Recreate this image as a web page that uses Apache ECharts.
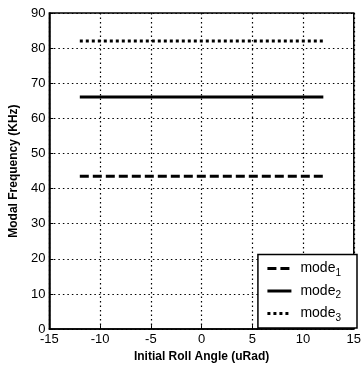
<!DOCTYPE html>
<html>
<head>
<meta charset="utf-8">
<script src="https://cdn.jsdelivr.net/npm/echarts@6/dist/echarts.min.js"></script>
<style>
  html, body { margin: 0; padding: 0; background: #fff; }
  #chart { width: 364px; height: 368px; }
</style>
</head>
<body>
<div id="chart"></div>
<script>
// roll angle samples (uRad)
const rollAngle = [-12, -9, -6, -3, 0, 3, 6, 9, 12];
// modal frequencies (KHz)
const mode1 = [43.5, 43.5, 43.5, 43.5, 43.5, 43.5, 43.5, 43.5, 43.5];
const mode2 = [66.1, 66.1, 66.1, 66.1, 66.1, 66.1, 66.1, 66.1, 66.1];
const mode3 = [82.0, 82.0, 82.0, 82.0, 82.0, 82.0, 82.0, 82.0, 82.0];
const seriesNames = ['mode1', 'mode2', 'mode3'];

const font = 'Liberation Sans, Arial, sans-serif';
const pairs = ys => rollAngle.map((x, i) => [x, ys[i]]);

const chart = echarts.init(document.getElementById('chart'), null, { renderer: 'canvas' });

const gridDotted = { show: true, lineStyle: { color: '#000', type: [1.5, 3], width: 1.2 } };

chart.setOption({
  animation: false,
  backgroundColor: '#fff',
  textStyle: { fontFamily: font, color: '#000' },
  grid: { left: 43, right: 8, top: 13, bottom: 38, show: true, borderColor: '#000', borderWidth: 1.5 },
  legend: {
    data: seriesNames,
    orient: 'vertical',
    right: 7,
    bottom: 40,
    backgroundColor: '#fff',
    borderColor: '#000',
    borderWidth: 1.5,
    borderRadius: 0,
    padding: [7, 16, 5, 8],
    itemGap: 6,
    itemWidth: 24,
    itemHeight: 10,
    itemStyle: { opacity: 0 },
    lineStyle: { width: 3 },
    formatter: n => 'mode{sub|' + n.slice(4) + '}',
    textStyle: {
      fontFamily: font, fontSize: 14, color: '#000', padding: [0, 0, 0, 4],
      rich: { sub: { fontSize: 10, verticalAlign: 'bottom', padding: [9, 0, 0, 0], fontFamily: font } }
    }
  },
  xAxis: {
    type: 'value',
    min: -15, max: 15, interval: 5,
    name: 'Initial Roll Angle (uRad)',
    nameLocation: 'middle',
    nameGap: 16,
    nameTextStyle: { fontSize: 12, fontWeight: 'bold', fontFamily: font, color: '#000' },
    axisLine: { show: true, onZero: false, lineStyle: { color: '#000', width: 1.5 } },
    axisTick: { show: true, inside: true, length: 4, lineStyle: { color: '#000' } },
    axisLabel: { fontSize: 13, color: '#000', margin: 4, fontFamily: font },
    splitLine: gridDotted
  },
  yAxis: {
    type: 'value',
    min: 0, max: 90, interval: 10,
    name: 'Modal Frequency (KHz)',
    nameLocation: 'middle',
    nameGap: 28,
    nameTextStyle: { fontSize: 12, fontWeight: 'bold', fontFamily: font, color: '#000' },
    axisLine: { show: true, onZero: false, lineStyle: { color: '#000', width: 1.5 } },
    axisTick: { show: true, inside: true, length: 4, lineStyle: { color: '#000' } },
    axisLabel: { fontSize: 13, color: '#000', margin: 4, fontFamily: font },
    splitLine: gridDotted
  },
  series: [
    {
      name: 'mode1', type: 'line', data: pairs(mode1), symbol: 'none',
      lineStyle: { color: '#000', width: 3, type: [9, 4] }, itemStyle: { color: '#000' }
    },
    {
      name: 'mode2', type: 'line', data: pairs(mode2), symbol: 'none',
      lineStyle: { color: '#000', width: 3, type: 'solid' }, itemStyle: { color: '#000' }
    },
    {
      name: 'mode3', type: 'line', data: pairs(mode3), symbol: 'none',
      lineStyle: { color: '#000', width: 3, type: [3, 3] }, itemStyle: { color: '#000' }
    }
  ]
});
</script>
</body>
</html>
